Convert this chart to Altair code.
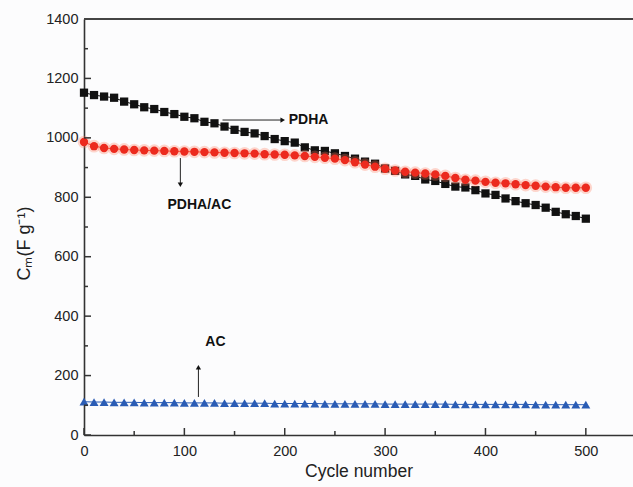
import altair as alt
import pandas as pd

cycles = list(range(0, 501, 10))
pdha = [1152, 1144, 1139, 1135, 1122, 1113, 1103, 1097, 1087, 1080,
        1071, 1066, 1054, 1049, 1038, 1027, 1020, 1015, 1006, 996,
        989, 984, 968, 958, 956, 948, 939, 930, 920, 913,
        897, 889, 877, 872, 860, 855, 845, 836, 833, 824,
        813, 808, 796, 787, 780, 774, 765, 751, 743, 737, 728]
pdha_ac = [986, 972, 966, 963, 961, 959, 958, 957, 956, 955,
           954, 953, 952, 951, 950, 949, 948, 947, 945, 944,
           943, 941, 939, 936, 933, 930, 925, 918, 910, 903,
           896, 890, 886, 883, 880, 877, 872, 865, 859, 856,
           852, 849, 847, 844, 841, 839, 836, 834, 832, 832, 832]
ac = [112, 111, 111, 110, 110, 110, 109, 109, 109, 109,
      108, 108, 108, 108, 107, 107, 107, 107, 107, 106,
      106, 106, 106, 106, 105, 105, 105, 105, 105, 105,
      104, 104, 104, 104, 104, 104, 104, 103, 103, 103,
      103, 103, 103, 103, 103, 102, 102, 102, 102, 102, 102]

x_major = [0, 100, 200, 300, 400, 500]
x_minor = [50, 150, 250, 350, 450]
y_major = [0, 200, 400, 600, 800, 1000, 1200, 1400]
y_minor = [100, 300, 500, 700, 900, 1100, 1300]

# annotations
ann_text = ["PDHA", "PDHA/AC", "AC"]
ann_x = [204, 115, 131]
ann_y = [1060, 774, 313]
ann_align = ["left", "center", "center"]
arrow_x1 = [138, 96, 114]
arrow_x2 = [198, 96, 114]
arrow_y1 = [1060, 932, 128]
arrow_y2 = [1060, 842, 228]
head_x = [198, 96, 114]
head_y = [1060, 842, 228]
head_shape = ["triangle-right", "triangle-down", "triangle-up"]

W, H = 549, 416
FONT = "Liberation Sans"
AX = "#333333"

xs = alt.Scale(domain=[0, 547], nice=False, zero=False)
ys = alt.Scale(domain=[0, 1400], nice=False)

x_axis = alt.Axis(values=x_major, title="Cycle number", ticks=False, grid=False, format="d",
                  domainColor=AX, domainWidth=1.6, labelFont=FONT, labelFontSize=14.5,
                  labelColor="#222", labelPadding=9, titleFont=FONT, titleFontSize=17.5,
                  titleFontWeight="normal", titleColor="#222", titleY=36,
                  titleBaseline="middle", labelFlush=False)
y_axis = alt.Axis(values=y_major, title="Cₘ(F g⁻¹)", ticks=False, grid=False, format="d",
                  domainColor=AX, domainWidth=1.6, labelFont=FONT, labelFontSize=14.5,
                  labelColor="#222", labelPadding=6, titleFont=FONT, titleFontSize=18,
                  titleFontWeight="normal", titleColor="#222", titleX=-60, titleY=224,
                  titleBaseline="middle", titleAlign="center", labelFlush=False)

X = alt.X("cycle:Q", scale=xs, axis=x_axis)
Y = alt.Y("cap:Q", scale=ys, axis=y_axis)


def sdf(vals):
    return pd.DataFrame({"cycle": cycles, "cap": vals})


layers = []
series = [
    (pdha, "#111111", "square", 68, None),
    (pdha_ac, "#ec2a1e", "circle", 70, "#ff7a5c"),
    (ac, "#2a5cb5", "triangle-up", 80, None),
]
for vals, col, shape, size, glow in series:
    d = sdf(vals)
    layers.append(alt.Chart(d).mark_line(color=col, strokeWidth=1).encode(x=X, y=Y))
    if glow:
        layers.append(alt.Chart(d).mark_point(shape="circle", filled=True, size=160,
                                              color=glow, opacity=0.3).encode(x=X, y=Y))
    layers.append(alt.Chart(d).mark_point(shape=shape, filled=True, size=size,
                                          color=col, opacity=1).encode(x=X, y=Y))

# inward ticks
xt_major = pd.DataFrame({"cycle": x_major})
xt_minor = pd.DataFrame({"cycle": x_minor})
yt_major = pd.DataFrame({"cap": y_major})
yt_minor = pd.DataFrame({"cap": y_minor})
layers.append(alt.Chart(xt_major).mark_rule(color=AX, strokeWidth=1.5).encode(
    x=X, y=alt.value(H), y2=alt.value(H - 7)))
layers.append(alt.Chart(xt_minor).mark_rule(color=AX, strokeWidth=1.5).encode(
    x=X, y=alt.value(H), y2=alt.value(H - 4)))
layers.append(alt.Chart(yt_major).mark_rule(color=AX, strokeWidth=1.5).encode(
    y=Y, x=alt.value(0), x2=alt.value(7)))
layers.append(alt.Chart(yt_minor).mark_rule(color=AX, strokeWidth=1.5).encode(
    y=Y, x=alt.value(0), x2=alt.value(4)))
# top frame
layers.append(alt.Chart(xt_major).mark_rule(color="#444", strokeWidth=2).encode(
    x=alt.value(0), x2=alt.value(W), y=alt.value(0)))

# annotations
arr = pd.DataFrame({"cycle": arrow_x1, "cycle2": arrow_x2, "cap": arrow_y1, "cap2": arrow_y2})
layers.append(alt.Chart(arr).mark_rule(color="#222", strokeWidth=1).encode(
    x=X, x2="cycle2:Q", y=Y, y2="cap2:Q"))
heads = pd.DataFrame({"cycle": head_x, "cap": head_y, "shape": head_shape})
for i in range(3):
    layers.append(alt.Chart(heads.iloc[[i]]).mark_point(
        shape=head_shape[i], filled=True, size=28, color="#111", opacity=1).encode(x=X, y=Y))
txt = pd.DataFrame({"cycle": ann_x, "cap": ann_y, "t": ann_text})
for i in range(3):
    layers.append(alt.Chart(txt.iloc[[i]]).mark_text(
        font=FONT, fontSize=14, fontWeight="bold", color="#111",
        align=ann_align[i], baseline="middle").encode(x=X, y=Y, text="t:N"))

chart = alt.layer(*layers).properties(
    width=W, height=H,
    padding={"left": 84, "top": 19, "right": 0, "bottom": 52},
    autosize=alt.AutoSizeParams(type="none"),
    background="#fcfcfd",
).configure_view(stroke=None)

chart.save("out.html", embed_options={"renderer": "svg", "actions": False})
